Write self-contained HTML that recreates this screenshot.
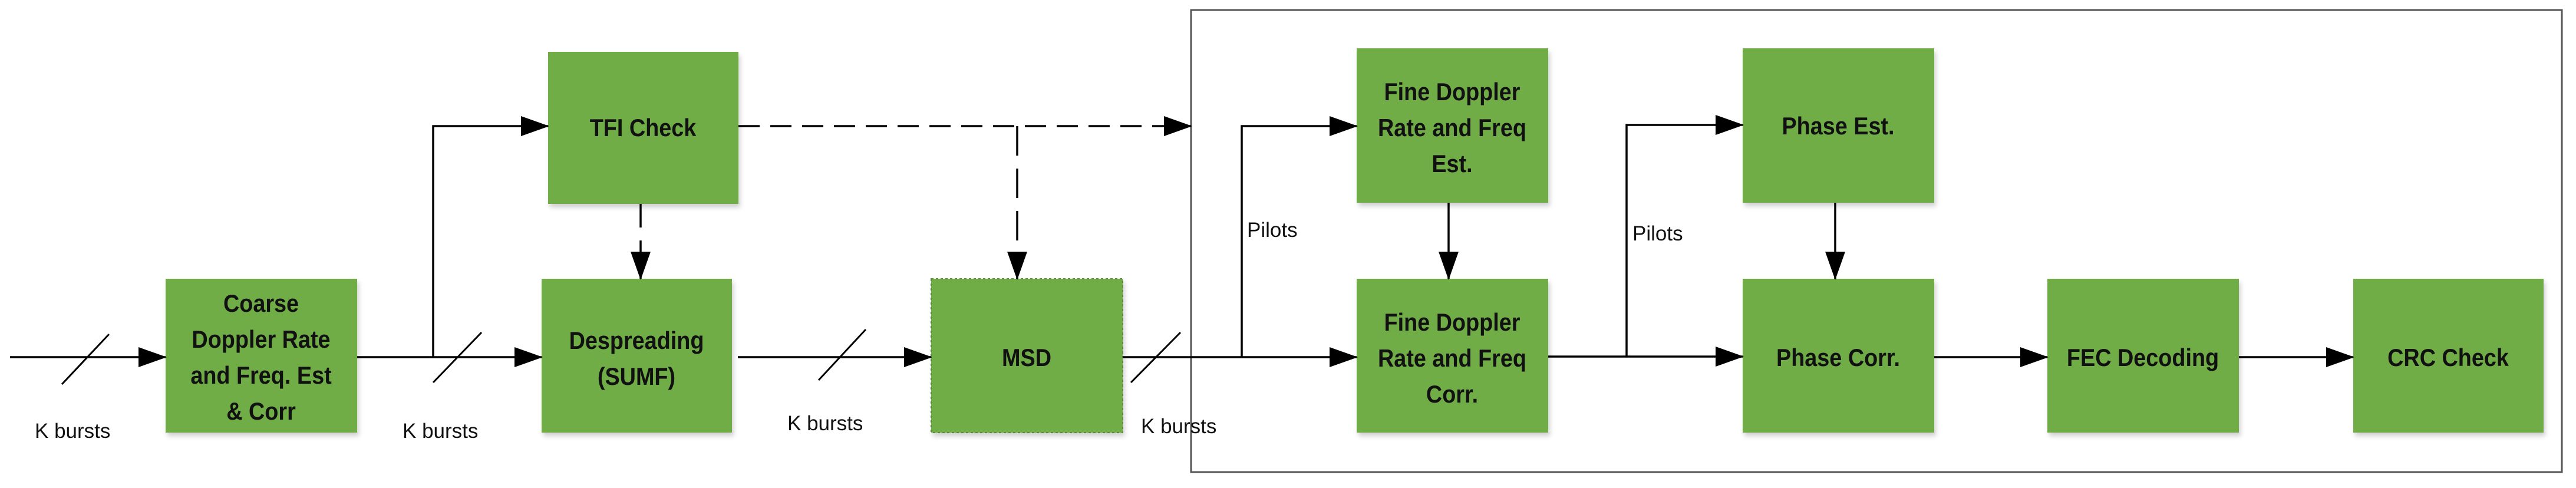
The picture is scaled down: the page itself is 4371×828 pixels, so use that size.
<!DOCTYPE html>
<html><head><meta charset="utf-8"><style>
html,body{margin:0;padding:0;background:#fff;}
svg{display:block;}
.b{font-family:"Liberation Sans",sans-serif;font-weight:bold;font-size:42px;fill:#111;}
.n{font-family:"Liberation Sans",sans-serif;font-size:35px;fill:#111;}
</style></head><body>
<svg width="4371" height="828" viewBox="0 0 4371 828" xmlns="http://www.w3.org/2000/svg">
<defs>
<marker id="a" markerUnits="userSpaceOnUse" markerWidth="48" markerHeight="34" refX="46" refY="17" orient="auto">
<path d="M0,0 L48,17 L0,34 Z" fill="#000"/></marker>
<filter id="sh" x="-5%" y="-5%" width="115%" height="115%"><feDropShadow dx="3" dy="6" stdDeviation="4" flood-color="#000" flood-opacity="0.18"/></filter>
</defs>
<rect x="2021" y="17" width="2326" height="784" fill="none" stroke="#555" stroke-width="3"/>
<g fill="#70AD47" filter="url(#sh)">
<rect x="281" y="473" width="325" height="261"/>
<rect x="919" y="473" width="323" height="261"/>
<rect x="930" y="88" width="323" height="258"/>
<rect x="1580" y="473" width="325" height="261" stroke="#5a8a3a" stroke-width="2" stroke-dasharray="4,4"/>
<rect x="2302" y="82" width="325" height="262"/>
<rect x="2302" y="473" width="325" height="261"/>
<rect x="2957" y="82" width="325" height="262"/>
<rect x="2957" y="473" width="325" height="261"/>
<rect x="3474" y="473" width="325" height="261"/>
<rect x="3993" y="473" width="323" height="261"/>
</g>
<g stroke="#000" stroke-width="3.5" fill="none">
<line x1="17" y1="606" x2="281" y2="606" marker-end="url(#a)"/>
<line x1="606" y1="606" x2="919" y2="606" marker-end="url(#a)"/>
<polyline points="735,606 735,214 930,214" marker-end="url(#a)"/>
<line x1="1252" y1="606" x2="1580" y2="606" marker-end="url(#a)"/>
<line x1="1905" y1="606" x2="2302" y2="606" marker-end="url(#a)"/>
<polyline points="2107,606 2107,214 2302,214" marker-end="url(#a)"/>
<line x1="2458" y1="344" x2="2458" y2="473" marker-end="url(#a)"/>
<line x1="2627" y1="605" x2="2957" y2="605" marker-end="url(#a)"/>
<polyline points="2760,605 2760,212 2957,212" marker-end="url(#a)"/>
<line x1="3114" y1="344" x2="3114" y2="473" marker-end="url(#a)"/>
<line x1="3282" y1="606" x2="3474" y2="606" marker-end="url(#a)"/>
<line x1="3799" y1="606" x2="3993" y2="606" marker-end="url(#a)"/>
</g>
<g stroke="#000" stroke-width="3.5" fill="none">
<line x1="1253" y1="214" x2="2021" y2="214" stroke-dasharray="36,18" marker-end="url(#a)"/>
<polyline points="1726,214 1726,473" stroke-dasharray="50,22" marker-end="url(#a)"/>
<line x1="1087" y1="346" x2="1087" y2="473" stroke-dasharray="40,22" marker-end="url(#a)"/>
</g>
<g stroke="#000" stroke-width="3">
<line x1="185" y1="567" x2="105" y2="652"/>
<line x1="817" y1="564" x2="735" y2="649"/>
<line x1="1469" y1="559" x2="1389" y2="645"/>
<line x1="2003" y1="564" x2="1919" y2="649"/>
</g>
<g class="n">
<text x="59" y="743">K bursts</text>
<text x="683" y="743">K bursts</text>
<text x="1336" y="730">K bursts</text>
<text x="1936" y="735">K bursts</text>
<text x="2116" y="402">Pilots</text>
<text x="2770" y="408">Pilots</text>
</g>
<g class="b" text-anchor="middle">
<g transform="translate(443,0) scale(0.9,1)">
<text x="0" y="529">Coarse</text>
<text x="0" y="590">Doppler Rate</text>
<text x="0" y="651">and Freq. Est</text>
<text x="0" y="712">&amp; Corr</text>
</g>
<g transform="translate(1080,0) scale(0.9,1)">
<text x="0" y="592">Despreading</text>
<text x="0" y="653">(SUMF)</text>
</g>
<g transform="translate(1091,0) scale(0.9,1)"><text x="0" y="231">TFI Check</text></g>
<g transform="translate(1742,0) scale(0.9,1)"><text x="0" y="621">MSD</text></g>
<g transform="translate(2464,0) scale(0.9,1)">
<text x="0" y="170">Fine Doppler</text>
<text x="0" y="231">Rate and Freq</text>
<text x="0" y="292">Est.</text>
<text x="0" y="561">Fine Doppler</text>
<text x="0" y="622">Rate and Freq</text>
<text x="0" y="683">Corr.</text>
</g>
<g transform="translate(3119,0) scale(0.9,1)">
<text x="0" y="228">Phase Est.</text>
<text x="0" y="621">Phase Corr.</text>
</g>
<g transform="translate(3636,0) scale(0.9,1)"><text x="0" y="621">FEC Decoding</text></g>
<g transform="translate(4154,0) scale(0.9,1)"><text x="0" y="621">CRC Check</text></g>
</g>
</svg>
</body></html>
